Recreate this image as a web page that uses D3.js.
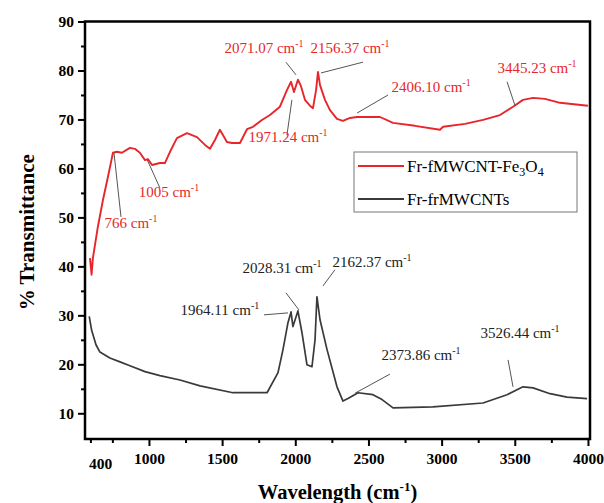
<!DOCTYPE html>
<html>
<head>
<meta charset="utf-8">
<script src="https://cdn.jsdelivr.net/npm/d3@7"></script>
<style>
  body { margin: 0; background: #fff; }
  svg { display: block; }
  text { font-family: "Liberation Serif", "Times New Roman", serif; }
</style>
</head>
<body>
<figure id="ftir" style="margin:0"></figure>
<script>
// series
const seriesNames = ["Fr-fMWCNT-Fe3O4", "Fr-frMWCNTs"];

const redWn = [597, 608, 617, 651, 686, 720, 754, 781, 815, 870, 904, 938, 973, 993, 1021, 1075, 1109, 1144, 1191, 1260, 1328, 1383, 1417, 1451, 1485, 1533, 1567, 1622, 1670, 1711, 1772, 1827, 1895, 1943, 1971, 1991, 2018, 2039, 2066, 2100, 2121, 2142, 2155, 2169, 2203, 2237, 2285, 2326, 2374, 2422, 2510, 2579, 2668, 2818, 2989, 3010, 3160, 3283, 3399, 3488, 3556, 3625, 3707, 3809, 4000];
const redT  = [41.7, 38.3, 41.7, 48.1, 53.6, 58.3, 63.2, 63.4, 63.2, 64.2, 64.0, 63.2, 61.7, 61.9, 60.7, 61.1, 61.1, 63.4, 66.2, 67.2, 66.4, 64.8, 64.0, 65.8, 67.9, 65.4, 65.2, 65.2, 68.0, 68.5, 69.9, 70.9, 72.6, 76.0, 77.7, 75.6, 78.1, 76.8, 74.0, 72.8, 72.3, 76.0, 79.7, 77.0, 74.0, 71.9, 70.1, 69.7, 70.3, 70.5, 70.5, 70.5, 69.3, 68.7, 67.9, 68.5, 69.1, 69.9, 70.9, 72.6, 74.0, 74.4, 74.2, 73.4, 72.8];

const blackWn = [592, 608, 638, 665, 733, 802, 870, 973, 1075, 1212, 1349, 1574, 1807, 1882, 1916, 1950, 1971, 1984, 2018, 2046, 2080, 2114, 2135, 2148, 2169, 2217, 2285, 2326, 2360, 2429, 2531, 2593, 2668, 2941, 3283, 3447, 3556, 3625, 3741, 3857, 3994];
const blackT  = [29.8, 27.0, 24.0, 22.5, 21.3, 20.5, 19.7, 18.5, 17.7, 16.8, 15.6, 14.2, 14.2, 18.3, 23.0, 28.5, 30.7, 27.7, 30.9, 26.4, 19.9, 19.5, 25.0, 33.8, 29.1, 23.0, 15.4, 12.5, 13.0, 14.2, 13.8, 12.8, 11.1, 11.3, 12.1, 13.8, 15.4, 15.2, 14.0, 13.3, 13.0];

// axis ticks
const xTicks = [1000, 1500, 2000, 2500, 3000, 3500, 4000];
const xMinorTicks = [600, 750, 1250, 1750, 2250, 2750, 3250, 3750];
const yTicks = [10, 20, 30, 40, 50, 60, 70, 80, 90];
const yMinorTicks = [15, 25, 35, 45, 55, 65, 75, 85];
const firstTickLabel = "400";

// peak labels: [label, text wn, text T, line from wn, T, line to wn, T]
const redPeaks = [
  ["2071.07", 1786, 83.6, 1936, 81.7, 2005, 79.1],
  ["2156.37", 2374, 83.6, 2463, 81.7, 2176, 79.5],
  ["1971.24", 1950, 65.4, 1977, 74.0, 1943, 66.8],
  ["2406.10", 2928, 75.6, 2634, 75.0, 2422, 71.3],
  ["3445.23", 3652, 79.5, 3447, 77.7, 3502, 72.8],
  ["766", 877, 47.9, 761, 63.2, 809, 50.1],
  ["1005", 1137, 54.2, 986, 61.9, 1075, 56.0]
];
const blackPeaks = [
  ["1964.11", 1485, 30.1, 1786, 30.1, 1950, 30.5],
  ["2028.31", 1909, 38.7, 1936, 34.6, 2025, 31.1],
  ["2162.37", 2524, 39.9, 2271, 39.3, 2189, 36.0],
  ["2373.86", 2859, 20.9, 2647, 18.0, 2408, 14.1],
  ["3526.44", 3536, 25.4, 3454, 20.9, 3488, 15.4]
];

const W = 604, H = 503;
const margin = {left: 85, right: 14, top: 21.5, bottom: 64};
const width = W - margin.left - margin.right;
const height = H - margin.top - margin.bottom;
const red = "#e8262a", dark = "#3a3a3a";

const svg = d3.select("figure#ftir").append("svg")
  .attr("width", W).attr("height", H);
const g = svg.append("g")
  .attr("transform", "translate(" + margin.left + "," + margin.top + ")");

const x = d3.scaleLinear().domain([563, 4014]).range([0, width]);
const y = d3.scaleLinear().domain([4.75, 90]).range([height, 0]);

// axes
const xAxis = g.append("g")
  .attr("transform", "translate(0," + height + ")")
  .call(d3.axisBottom(x).tickValues(xTicks).tickSize(7).tickPadding(7).tickFormat(d3.format("d")));
g.append("g")
  .attr("transform", "translate(0," + height + ")")
  .call(d3.axisBottom(x).tickValues(xMinorTicks).tickSize(4).tickFormat(""));
xAxis.append("text")
  .attr("x", x(670)).attr("y", 30)
  .attr("fill", "#000").attr("text-anchor", "middle")
  .text(firstTickLabel);

g.append("g")
  .call(d3.axisLeft(y).tickValues(yTicks).tickSize(7).tickPadding(4));
g.append("g")
  .call(d3.axisLeft(y).tickValues(yMinorTicks).tickSize(4).tickFormat(""));

g.selectAll(".domain").remove();
g.selectAll(".tick line").attr("stroke", "#000").attr("stroke-width", 2);
g.selectAll(".tick text, text")
  .style("font-family", "'Liberation Serif', serif")
  .style("font-size", "15.5px").style("font-weight", "bold").attr("fill", "#000");

// frame
g.append("rect")
  .attr("width", width).attr("height", height)
  .attr("fill", "none").attr("stroke", "#000").attr("stroke-width", 2.5);

// lines
const line = d3.line().x(d => x(d[0])).y(d => y(d[1]));
const redData = redWn.map((w, i) => [w, redT[i]]);
const blackData = blackWn.map((w, i) => [w, blackT[i]]);

g.append("path").datum(blackData)
  .attr("d", line).attr("fill", "none")
  .attr("stroke", dark).attr("stroke-width", 1.7).attr("stroke-linejoin", "round");
g.append("path").datum(redData)
  .attr("d", line).attr("fill", "none")
  .attr("stroke", red).attr("stroke-width", 1.9).attr("stroke-linejoin", "round");

// peak annotations
function addPeaks(list, color) {
  const ann = g.append("g");
  list.forEach(p => {
    ann.append("line")
      .attr("x1", x(p[3])).attr("y1", y(p[4]))
      .attr("x2", x(p[5])).attr("y2", y(p[6]))
      .attr("stroke", "#555").attr("stroke-width", 1);
    const t = ann.append("text")
      .attr("x", x(p[1])).attr("y", y(p[2]))
      .attr("text-anchor", "middle")
      .attr("fill", color)
      .style("font-size", "15px");
    t.append("tspan").text(p[0] + " cm");
    t.append("tspan").attr("dy", -6).style("font-size", "10px").text("-1");
  });
}
addPeaks(redPeaks, red);
addPeaks(blackPeaks, "#222");

// axis titles
const xt = svg.append("text")
  .attr("x", margin.left + width / 2).attr("y", 499)
  .attr("text-anchor", "middle")
  .style("font-size", "20.5px").style("font-weight", "bold");
xt.append("tspan").text("Wavelength (cm");
xt.append("tspan").attr("dy", -8).style("font-size", "13px").text("-1");
xt.append("tspan").attr("dy", 8).text(")");

svg.append("text")
  .attr("transform", "translate(34," + (margin.top + height / 2 + 2) + ") rotate(-90)")
  .attr("text-anchor", "middle")
  .style("font-size", "21px").style("font-weight", "bold")
  .text("% Transmittance");

// legend
const legend = svg.append("g");
legend.append("rect")
  .attr("x", 354).attr("y", 152).attr("width", 223).attr("height", 60)
  .attr("fill", "#fff").attr("stroke", "#777").attr("stroke-width", 1);
[red, dark].forEach((c, i) => {
  const ly = 166 + i * 33;
  legend.append("line")
    .attr("x1", 358).attr("x2", 404).attr("y1", ly).attr("y2", ly)
    .attr("stroke", c).attr("stroke-width", 1.8);
  const lt = legend.append("text")
    .attr("x", 407).attr("y", ly + 6)
    .style("font-size", "17px").attr("fill", "#000");
  if (i === 0) {
    lt.append("tspan").text("Fr-fMWCNT-Fe");
    lt.append("tspan").attr("dy", 4).style("font-size", "12px").text("3");
    lt.append("tspan").attr("dy", -4).text("O");
    lt.append("tspan").attr("dy", 4).style("font-size", "12px").text("4");
  } else {
    lt.text(seriesNames[1]);
  }
});
</script>
</body>
</html>
